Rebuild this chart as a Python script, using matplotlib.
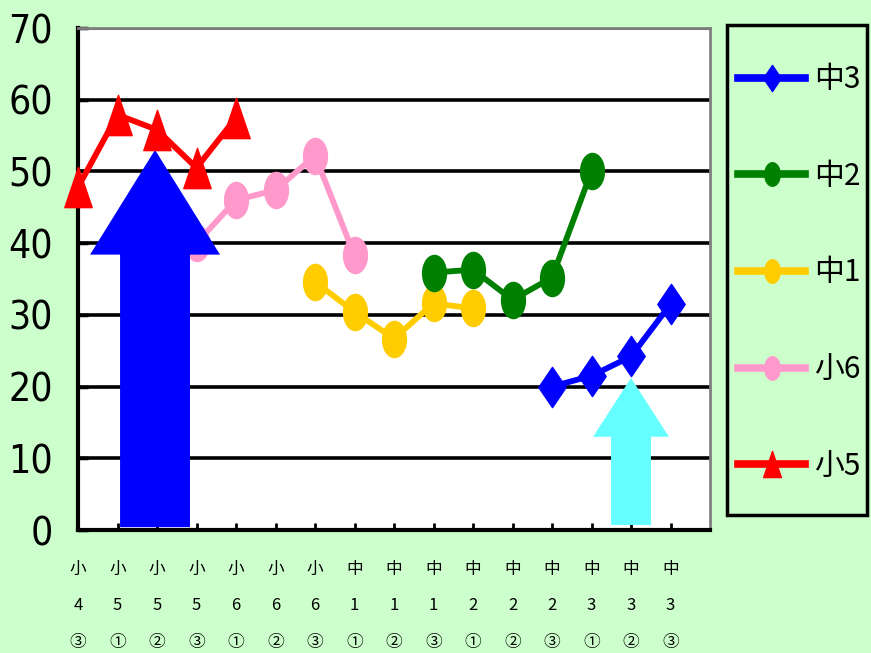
import matplotlib
matplotlib.use("Agg")
import matplotlib.pyplot as plt
import numpy as np
from matplotlib.path import Path
from matplotlib.patches import FancyArrow, Rectangle

plt.rcParams['font.family'] = ['Noto Sans CJK JP', 'DejaVu Sans']

# ---- data ----
cat_grade = ['小', '小', '小', '小', '小', '小', '小', '中', '中', '中', '中', '中', '中', '中', '中', '中']
cat_year = ['4', '5', '5', '5', '6', '6', '6', '1', '1', '1', '2', '2', '2', '3', '3', '3']
cat_term = ['③', '①', '②', '③', '①', '②', '③', '①', '②', '③', '①', '②', '③', '①', '②', '③']

s5_idx = [0, 1, 2, 3, 4]
s5_val = [47.8, 57.9, 55.8, 50.5, 57.5]
s6_idx = [3, 4, 5, 6, 7]
s6_val = [40.0, 46.0, 47.4, 52.2, 38.3]
c1_idx = [6, 7, 8, 9, 10]
c1_val = [34.6, 30.4, 26.7, 31.6, 30.9]
c2_idx = [9, 10, 11, 12, 13]
c2_val = [35.9, 36.3, 32.1, 35.2, 50.0]
c3_idx = [12, 13, 14, 15]
c3_val = [20.0, 21.5, 24.2, 31.5]

bg = '#CCFFCC'

# custom markers
circ = Path.unit_circle()
ell = Path(circ.vertices * np.array([0.66, 1.0]), circ.codes)
tri = Path([(-0.34, -0.5), (0.34, -0.5), (0.0, 0.5), (-0.34, -0.5)],
           [Path.MOVETO, Path.LINETO, Path.LINETO, Path.CLOSEPOLY])
dia = Path([(0, 0.5), (0.34, 0), (0, -0.5), (-0.34, 0), (0, 0.5)],
           [Path.MOVETO, Path.LINETO, Path.LINETO, Path.LINETO, Path.CLOSEPOLY])

W, H = 871, 653
fig = plt.figure(figsize=(W/100, H/100), dpi=100, facecolor=bg)
ax = fig.add_axes([78/W, 1-530/H, (710-78)/W, (530-28)/H])
ax.set_facecolor('white')

lw = 4.2
ms = 26
l5, = ax.plot(s5_idx, s5_val, color='#FF0000', lw=lw, marker=tri, ms=29, zorder=3, label='小5', clip_on=False)
l6, = ax.plot(s6_idx, s6_val, color='#FF99CC', lw=lw, marker=ell, ms=ms, zorder=2, label='小6', clip_on=False)
l1, = ax.plot(c1_idx, c1_val, color='#FFCC00', lw=lw, marker=ell, ms=ms, zorder=3, label='中1', clip_on=False)
l2, = ax.plot(c2_idx, c2_val, color='#008000', lw=lw, marker=ell, ms=ms, zorder=3, label='中2', clip_on=False)
l3, = ax.plot(c3_idx, c3_val, color='#0000FF', lw=lw, marker=dia, ms=29, zorder=4, label='中3', clip_on=False)

# arrows
ax.add_patch(FancyArrow(1.95, 0.4, 0, 52.6, width=1.77, head_width=3.29, head_length=14.6,
                        length_includes_head=True, color='#0000FF', lw=0, zorder=2.5))
ax.add_patch(FancyArrow(14.0, 0.7, 0, 20.5, width=1.01, head_width=1.92, head_length=8.2,
                        length_includes_head=True, color='#66FFFF', lw=0, zorder=3.5))

ax.set_xlim(0, 16)
ax.set_ylim(0, 70)
ax.set_yticks(range(0, 71, 10))
ax.yaxis.grid(True, color='black', lw=2.6, zorder=1)
ax.set_axisbelow(True)

ax.set_xticks(range(16))
labels = [f'{g}\n{y}\n{t}' for g, y, t in zip(cat_grade, cat_year, cat_term)]
ax.set_xticklabels(labels, fontsize=12, linespacing=2.5, va='top')
ax.tick_params(axis='x', direction='in', length=5, width=2, pad=22, colors='black')
ax.tick_params(axis='y', direction='in', length=7, width=2.5, pad=18)
for t in ax.get_yticklabels():
    t.set_fontfamily(['DejaVu Sans'])
    t.set_fontstretch('condensed')
    t.set_fontsize(28)

for side in ['left', 'bottom']:
    ax.spines[side].set_linewidth(3)
    ax.spines[side].set_color('black')
for side in ['top', 'right']:
    ax.spines[side].set_linewidth(2)
    ax.spines[side].set_color('#808080')

# legend frame
fig.patches.append(Rectangle((727/W, 1-515/H), (867-727)/W, (515-25)/H, transform=fig.transFigure,
                             facecolor=bg, edgecolor='black', lw=2.5, zorder=0))
leg = fig.legend([l3, l2, l1, l6, l5], ['中3', '中2', '中1', '小6', '小5'],
                 loc='upper left', bbox_to_anchor=(738/W, 1-64/H),
                 fontsize=21.5, frameon=False,
                 handlelength=2.25, handletextpad=0.3, labelspacing=2.2, borderpad=0,
                 markerscale=0.65, borderaxespad=0)
for h in leg.legend_handles:
    h.set_linewidth(5.5)

fig.savefig('out.png', dpi=100, facecolor=bg)
